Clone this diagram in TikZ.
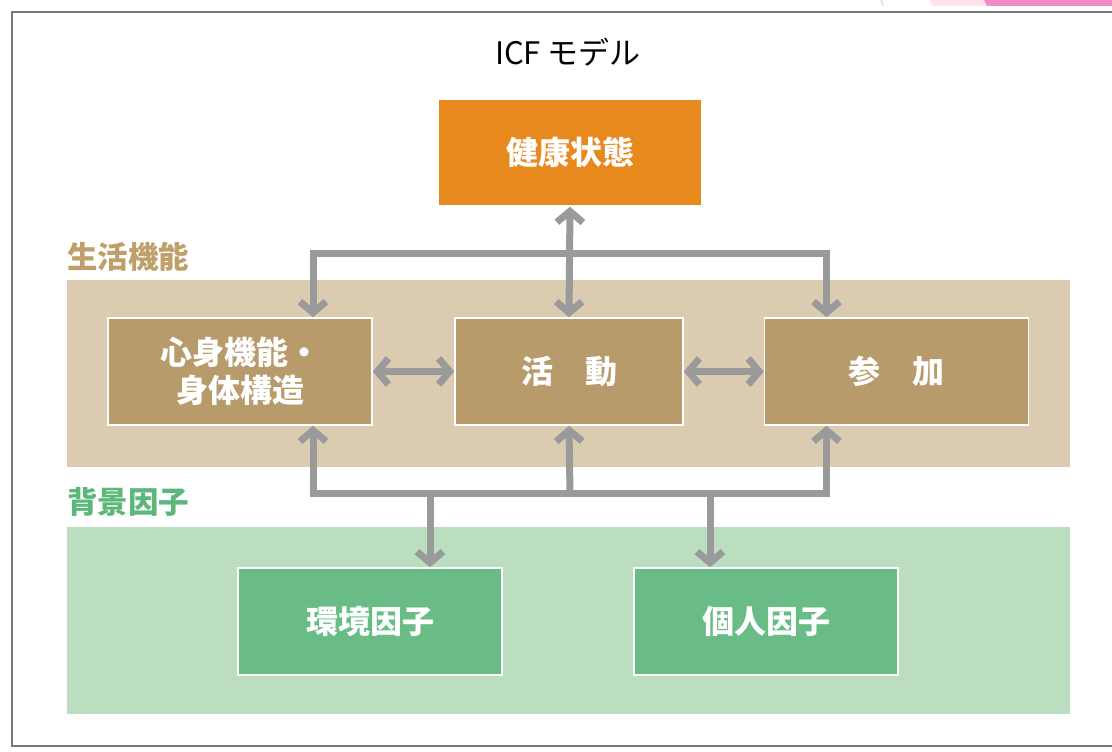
\documentclass[tikz,border=0pt]{standalone}
\usepackage{fontspec}
\setmainfont{Noto Sans CJK JP}
\usetikzlibrary{arrows.meta}
\definecolor{orangebox}{HTML}{E8891E}
\definecolor{tanband}{HTML}{DBCCB1}
\definecolor{brownbox}{HTML}{B89B6B}
\definecolor{tanlabel}{HTML}{C0A06A}
\definecolor{greenband}{HTML}{BBDEC0}
\definecolor{greenbox}{HTML}{69BC85}
\definecolor{greenlabel}{HTML}{5CB87A}
\definecolor{arrowgray}{HTML}{9A9A9A}
\definecolor{framegray}{HTML}{777777}
\definecolor{pinklight}{HTML}{FCE4F0}
\definecolor{pinkdark}{HTML}{F28BC3}
\tikzset{
  box/.style={draw=white, line width=1.5pt, minimum width=264pt, minimum height=107pt,
    inner sep=0pt, text=white, font=\fontsize{32}{38}\selectfont\bfseries, align=center},
  band/.style={inner sep=0pt, minimum width=1003pt, minimum height=187pt},
  grouplabel/.style={anchor=west, inner sep=0pt, font=\fontsize{30.5}{34}\selectfont\bfseries},
  conn/.style={draw=arrowgray, line width=7pt, line join=miter,
    >={Straight Barb[length=11pt,width=26pt]}},
}
\begin{document}
\begin{tikzpicture}[x=1pt,y=-1pt]
\useasboundingbox (0,0) rectangle (1112,752);
% corner decoration
\fill[pinklight] (930,0) -- (984,0) -- (987,6) -- (932,6) -- cycle;
\fill[pinkdark] (984,0) -- (1112,0) -- (1112,6) -- (987,6) -- cycle;
\draw[pinkdark!60, line width=1pt] (881,0) -- (883,6);
% frame
\draw[framegray, line width=2.5pt] (1125,12) -- (12,12) -- (12,746) -- (1125,746);
% title
\node[font=\fontsize{31}{36}\selectfont] (title) at (568,52) {ICF モデル};
% bands
\node[band, fill=tanband] (lifeband) at (568.5,373.5) {};
\node[band, fill=greenband] (ctxband) at (568.5,620.5) {};
\node[grouplabel, text=tanlabel] (lifelabel) at (67,257) {生活機能};
\node[grouplabel, text=greenlabel] (ctxlabel) at (67,502) {背景因子};
% boxes
\node[box, fill=orangebox] (health) at (570,152.5) {健康状態};
\node[box, fill=brownbox] (body) at (240,371.5) {心身機能・\\身体構造};
\node[box, fill=brownbox, minimum width=228pt] (act) at (569,371.5) {活　動};
\node[box, fill=brownbox] (part) at (896.5,371.5) {参　加};
\node[box, fill=greenbox] (env) at (370,621.5) {環境因子};
\node[box, fill=greenbox] (pers) at (766,621.5) {個人因子};
% junction coordinates
\coordinate (topmid) at (570,253);
\coordinate (botmid) at (570,493);
% connectors
\draw[conn, <->] (health.south) -- (act.north);
\draw[conn, <->] ([xshift=73pt]body.north) |- (topmid) -| ([xshift=-70pt]part.north);
\draw[conn, <->] (body.east) -- (act.west);
\draw[conn, <->] (act.east) -- (part.west);
\draw[conn, <->] ([xshift=73pt]body.south) |- (botmid) -| ([xshift=-70pt]part.south);
\draw[conn, ->] (botmid) -- (act.south);
\draw[conn, ->] ([xshift=60pt]env.north |- botmid) -- ([xshift=60pt]env.north);
\draw[conn, ->] ([xshift=-56pt]pers.north |- botmid) -- ([xshift=-56pt]pers.north);
\end{tikzpicture}
\end{document}
